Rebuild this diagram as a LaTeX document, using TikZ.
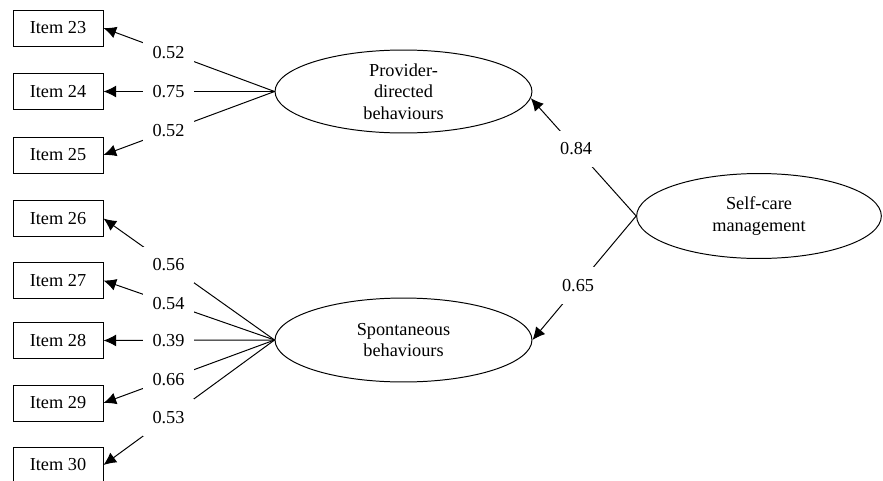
\documentclass[tikz,border=0pt]{standalone}
\usepackage{fontspec}
\setmainfont{Liberation Serif}
\usetikzlibrary{arrows.meta,shapes.geometric}

\tikzset{
  item/.style={draw, rectangle, minimum width=64pt, minimum height=25.6pt, inner sep=0pt},
  latent/.style={draw, ellipse, align=center, inner sep=0pt},
  load/.style={fill=white, inner xsep=6.5pt, inner ysep=8.5pt},
}

\begin{document}
\begin{tikzpicture}[x=0.025cm, y=-0.025cm, line width=0.7pt,
    >={Latex[length=9pt,width=8.5pt]},
    font=\fontsize{13}{15.2}\selectfont]
        \clip (0,0) rectangle (883,481);
        % items
        \node[item] (i23) at (58,28) {Item 23};
        \node[item] (i24) at (58,91.5) {Item 24};
        \node[item] (i25) at (58,155) {Item 25};
        \node[item] (i26) at (58,218.5) {Item 26};
        \node[item] (i27) at (58,280.5) {Item 27};
        \node[item] (i28) at (58,340.5) {Item 28};
        \node[item] (i29) at (58,403) {Item 29};
        \node[item] (i30) at (58,465) {Item 30};

        % latent variables
        \node[latent, minimum width=182.7pt, minimum height=59pt] (prov) at (403.5,91.5) {Provider-\\directed\\behaviours};
        \node[latent, minimum width=182.7pt, minimum height=59.7pt] (spon) at (403.5,340) {Spontaneous\\behaviours};
        \node[latent, minimum width=174pt, minimum height=60.4pt] (self) at (759,216) {Self-care\\management};

        % loadings
        \draw[->] (prov.west) -- node[load, pos=0.62] {0.52} (i23.east);
        \draw[->] (prov.west) -- node[load, pos=0.62] {0.75} (i24.east);
        \draw[->] (prov.west) -- node[load, pos=0.62] {0.52} (i25.east);

        \draw[->] (spon.west) -- node[load, pos=0.62] {0.56} (i26.east);
        \draw[->] (spon.west) -- node[load, pos=0.62] {0.54} (i27.east);
        \draw[->] (spon.west) -- node[load, pos=0.62] {0.39} (i28.east);
        \draw[->] (spon.west) -- node[load, pos=0.62] {0.66} (i29.east);
        \draw[->] (spon.west) -- node[load, pos=0.62] {0.53} (i30.east);

        \draw[->] (self.west) -- node[load, pos=0.57] {0.84} (prov.-3);
        \draw[->] (self.west) -- node[load, pos=0.56] {0.65} (spon.east);
\end{tikzpicture}
\end{document}
